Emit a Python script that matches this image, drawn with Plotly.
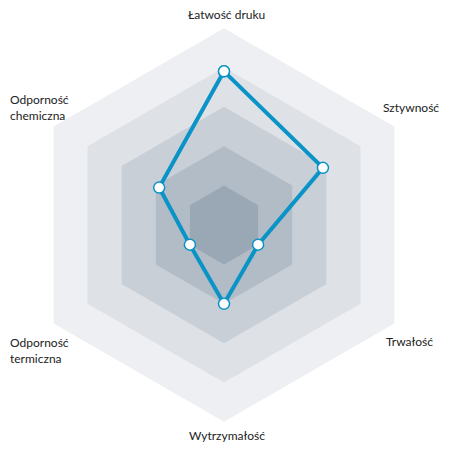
import plotly.graph_objects as go

categories = ["Łatwość druku", "Sztywność", "Trwałość", "Wytrzymałość",
              "Odporność termiczna", "Odporność chemiczna"]
label_texts = ["Łatwość druku", "Sztywność", "Trwałość", "Wytrzymałość",
               "Odporność<br>termiczna", "Odporność<br>chemiczna"]
values = [3.9, 2.9, 1, 2, 1, 1.9]
levels = [5, 4, 3, 2, 1]
level_colors = ["#eeeff2", "#dee1e6", "#c9cfd7", "#b2bcc6", "#9aa8b5"]

W = H = 442
L, R, T, B = 19, 29, 20, 28
OFF = 8  # page body margin


def px(sx, sy):
    return ((sx - OFF - L) / (W - L - R), 1 - (sy - OFF - T) / (H - T - B))


fig = go.Figure()
for lv, col in zip(levels, level_colors):
    fig.add_trace(go.Scatterpolar(
        r=[lv] * (len(categories) + 1),
        theta=categories + [categories[0]],
        fill="toself", fillcolor=col, mode="lines",
        line=dict(width=0, color=col), hoverinfo="skip", showlegend=False))

fig.add_trace(go.Scatterpolar(
    r=values + [values[0]],
    theta=categories + [categories[0]],
    mode="lines+markers",
    line=dict(color="#0a93c6", width=4),
    marker=dict(size=11, color="white", line=dict(color="#0a93c6", width=1.5)),
    showlegend=False))

label_pos = [(226, 14, "center"), (411, 107, "center"), (409, 341, "center"),
             (227, 435, "center"), (8, 350, "left"), (8, 108, "left")]
for txt, (sx, sy, anc) in zip(label_texts, label_pos):
    x, y = px(sx, sy)
    fig.add_annotation(x=x, y=y, xref="paper", yref="paper", text=txt,
                       showarrow=False, xanchor=anc, yanchor="middle", align=anc,
                       font=dict(family="Lato", size=12, color="#222"))

fig.update_layout(
    width=W, height=H,
    margin=dict(l=L, r=R, t=T, b=B),
    paper_bgcolor="white", plot_bgcolor="white",
    font=dict(family="Lato", size=12, color="#222"),
    polar=dict(
        bgcolor="rgba(0,0,0,0)",
        gridshape="linear",
        domain=dict(x=[0, 1], y=[0, 1]),
        radialaxis=dict(range=[0, 5], visible=False, showgrid=False),
        angularaxis=dict(direction="clockwise", rotation=90, showgrid=False,
                         showline=False, ticks="", showticklabels=False),
    ),
)
fig.write_html("out.html")
